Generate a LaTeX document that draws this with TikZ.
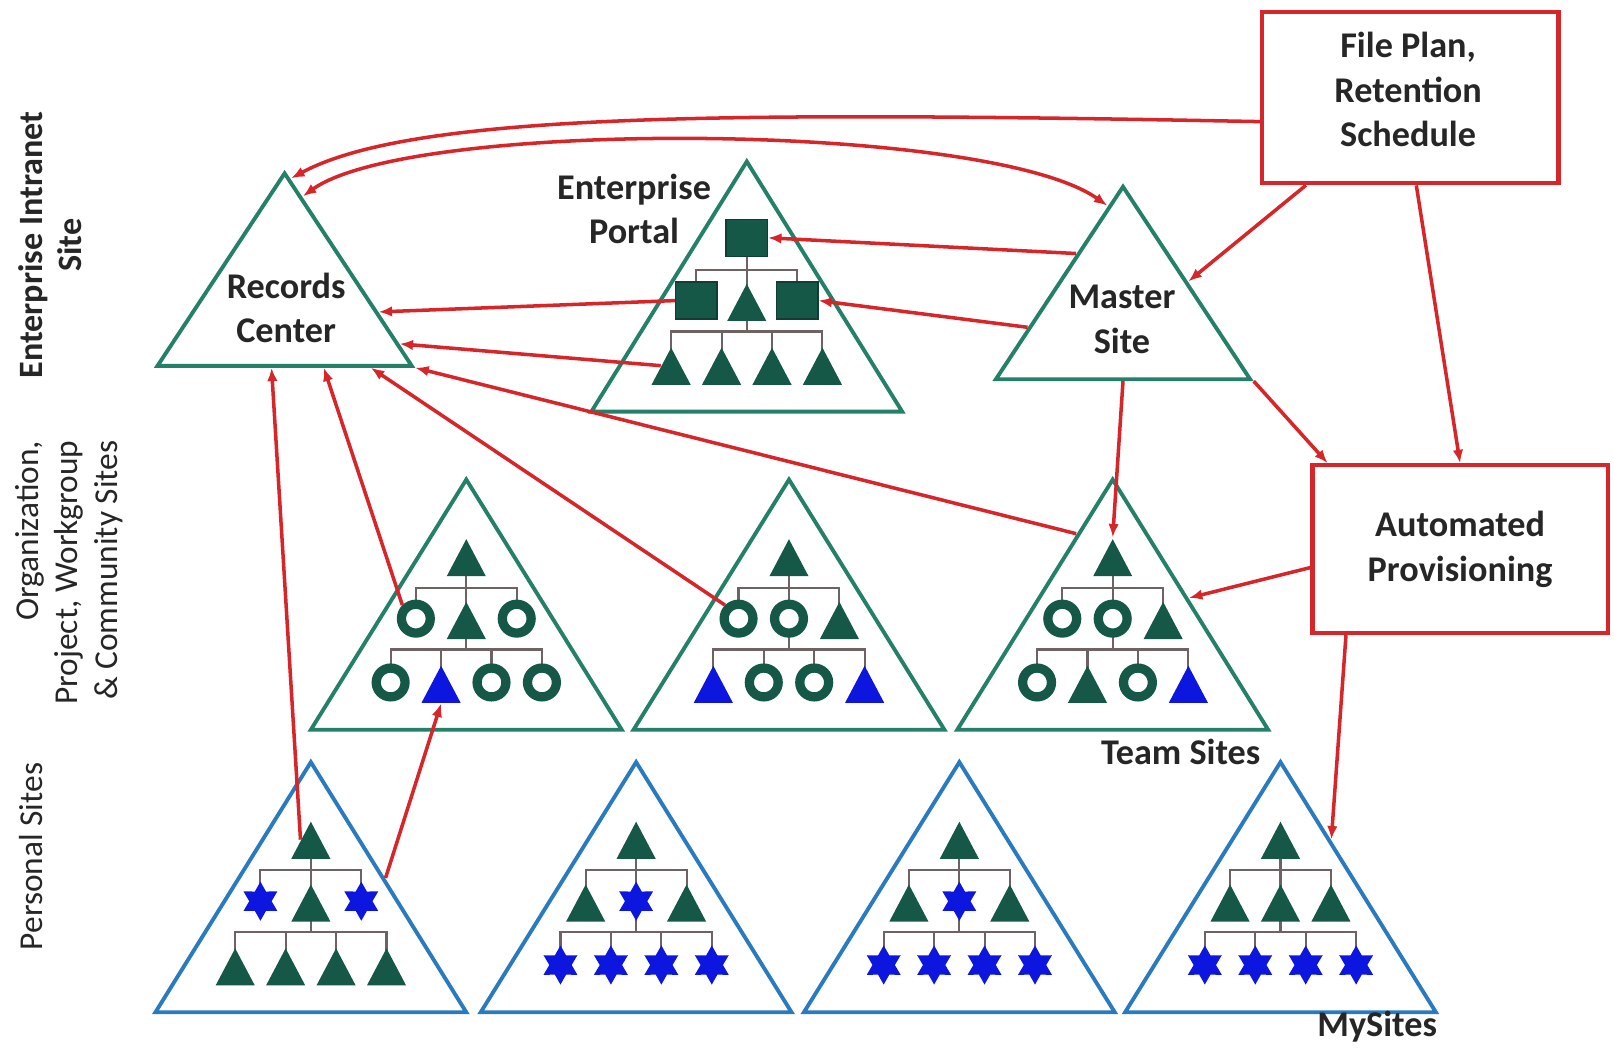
\documentclass[tikz,border=0pt]{standalone}
\usepackage{fontspec}
\setmainfont{Carlito}
\usetikzlibrary{arrows.meta}
\usetikzlibrary{calc}
\usetikzlibrary{positioning}
\usetikzlibrary{shapes.geometric}

\newdimen\pxu
\pxu=0.10293mm

\definecolor{siteGreen}{RGB}{36,128,104}
\definecolor{siteBlue}{RGB}{42,122,192}
\definecolor{iconGreen}{RGB}{22,88,72}
\definecolor{iconBlue}{RGB}{12,22,222}
\definecolor{linkRed}{RGB}{214,38,42}
\definecolor{treeGrey}{RGB}{110,98,98}

\tikzset{
  site/.style={isosceles triangle, isosceles triangle stretches,
    shape border rotate=90, inner sep=0pt, anchor=apex,
    draw=siteGreen, line width=1.1pt,
    minimum width=302\pxu, minimum height=243\pxu},
  topsite/.style={site, minimum width=247\pxu, minimum height=187\pxu},
  mysite/.style={site, draw=siteBlue},
  tri/.style={isosceles triangle, isosceles triangle stretches,
    shape border rotate=90, inner sep=0pt, anchor=apex, yshift=18\pxu,
    minimum width=38\pxu, minimum height=36\pxu, fill=iconGreen},
  btri/.style={tri, fill=iconBlue},
  sq/.style={rectangle, inner sep=0pt, minimum width=40\pxu,
    minimum height=36\pxu, fill=iconGreen, draw=iconGreen!70!black},
  ring/.style={circle, inner sep=0pt, minimum size=28\pxu,
    draw=iconGreen, line width=9\pxu, fill=white},
  star6/.style={star, star points=6, star point ratio=1.75,
    inner sep=0pt, minimum size=38\pxu, fill=iconBlue},
  tree/.style={draw=treeGrey, line width=0.6pt},
  box/.style={draw=linkRed, line width=1.2pt, inner sep=0pt},
  link/.style={draw=linkRed, line width=1pt,
    >={Latex[length=3.8pt,width=3pt]}, ->},
  lbl/.style={font=\fontsize{10.3}{12.7}\selectfont\bfseries,
    align=center, text=black!85},
  side/.style={font=\fontsize{9.5}{11.2}\selectfont, rotate=90,
    text=black!85},
  pics/hier/.style n args={3}{code={
    \draw[tree] (0,79) -- (0,170);
    \draw[tree] (-49,140) -- (-49,110) -- (49,110) -- (49,140);
    \draw[tree] (-73.5,202) -- (-73.5,170) -- (73.5,170) -- (73.5,202);
    \draw[tree] (-24.5,170) -- (-24.5,202) (24.5,170) -- (24.5,202);
    \node[#1] (-top) at (0,79) {};
    \foreach \s [count=\i] in {#2} \node[\s] (-m\i) at ({(\i-2)*49},140) {};
    \foreach \s [count=\i] in {#3} \node[\s] (-b\i) at ({(\i-2.5)*49},202) {};
  }},
}

\begin{document}
\begin{tikzpicture}[x=0.10293mm, y=-0.10293mm]
  \useasboundingbox[fill=white] (0,0) rectangle (1568,1018);

  % row labels
  \node[side, font=\fontsize{9.7}{11.2}\selectfont\bfseries, align=center] (lvl1) at (49,238) {Enterprise Intranet\\Site};
  \node[side, align=right, anchor=east] (lvl2) at (67,416) {Organization,\\Project, Workgroup\\\& Community Sites};
  \node[side] (lvl3) at (30,832) {Personal Sites};

  % enterprise sites
  \node[topsite] (rc) at (276.5,163.5) {};
  \node[lbl] (rclbl) at (278,299) {Records\\Center};
  \node[site] (ep) at (725.5,152) {};
  \pic (ep) at (725.5,152) {hier={sq}{sq,tri,sq}{tri,tri,tri,tri}};
  \node[lbl] (eplbl) at (616,203) {Enterprise\\Portal};
  \node[topsite] (ms) at (1091,176.5) {};
  \node[lbl] (mslbl) at (1090,310) {Master\\Site};

  \node[box, minimum width=288\pxu, minimum height=166\pxu] (fp) at (1370,95) {};
  \node[lbl] (fplbl) at (1368,87) {File Plan,\\Retention\\Schedule};
  \node[box, lbl, minimum width=287\pxu, minimum height=163\pxu] (ap) at (1418.5,533.5) {Automated\\Provisioning};

  % team sites
  \node[site] (t1) at (453,461) {};
  \pic (t1) at (453,461) {hier={tri}{ring,tri,ring}{ring,btri,ring,ring}};
  \node[site] (t2) at (766.5,461) {};
  \pic (t2) at (766.5,461) {hier={tri}{ring,ring,tri}{btri,ring,ring,btri}};
  \node[site] (t3) at (1081,461) {};
  \pic (t3) at (1081,461) {hier={tri}{ring,ring,tri}{ring,tri,ring,btri}};
  \node[lbl, inner sep=0pt] (teamlbl) [below left=2pt and 3pt of t3.right corner] {Team Sites};

  % my sites
  \node[mysite] (b1) at (302,735.5) {};
  \pic (b1) at (302,735.5) {hier={tri}{star6,tri,star6}{tri,tri,tri,tri}};
  \node[mysite] (b2) at (618,735.5) {};
  \pic (b2) at (618,735.5) {hier={tri}{tri,star6,tri}{star6,star6,star6,star6}};
  \node[mysite] (b3) at (932,735.5) {};
  \pic (b3) at (932,735.5) {hier={tri}{tri,star6,tri}{star6,star6,star6,star6}};
  \node[mysite] (b4) at (1244,735.5) {};
  \pic (b4) at (1244,735.5) {hier={tri}{tri,tri,tri}{star6,star6,star6,star6}};
  \node[lbl, inner sep=0pt] (mylbl) [below left=-1pt and 0.5pt of b4.right corner] {MySites};

  % links
  \draw[link] (fp.189) .. controls (700,108) and (400,110) .. ($(rc.apex)!0.05!(rc.right corner)$);
  \draw[link, <->] ($(rc.apex)!0.14!(rc.right corner)$) .. controls (400,115) and (960,118) .. ($(ms.apex)!0.12!(ms.left corner)$);
  \draw[link] ($(ms.apex)!0.36!(ms.left corner)$) -- (ep-top.east);
  \draw[link] ($(ms.apex)!0.73!(ms.left corner)$) -- (ep-m3.east);
  \draw[link] (ep-m1.west) -- ($(rc.apex)!0.72!(rc.right corner)$);
  \draw[link] (ep-b1.left side) -- ($(rc.apex)!0.88!(rc.right corner)$);
  \draw[link] ($(t3.apex)!0.23!(t3.left corner)$) -- (rc.right corner);
  \draw[link] (t2-m1.north west) -- ($(rc.left corner)!0.83!(rc.right corner)$);
  \draw[link] (t1-m1.north west) -- ($(rc.left corner)!0.65!(rc.right corner)$);
  \draw[link] (b1-top.left side) -- ($(rc.left corner)!0.45!(rc.right corner)$);
  \draw[link] ($(b1.apex)!0.47!(b1.right corner)$) -- (t1-b2.lower side);
  \draw[link] (ms.lower side) -- (t3-top.apex);
  \draw[link] (ms.right corner) -- (ap.147);
  \draw[link] (fp.-86) -- (ap.north);
  \draw[link] (fp.220.5) -- (ms.right side);
  \draw[link] (ap.187) -- ($(t3.apex)!0.48!(t3.right corner)$);
  \draw[link] (ap.217) -- ($(b4.apex)!0.32!(b4.right corner)$);
\end{tikzpicture}
\end{document}
